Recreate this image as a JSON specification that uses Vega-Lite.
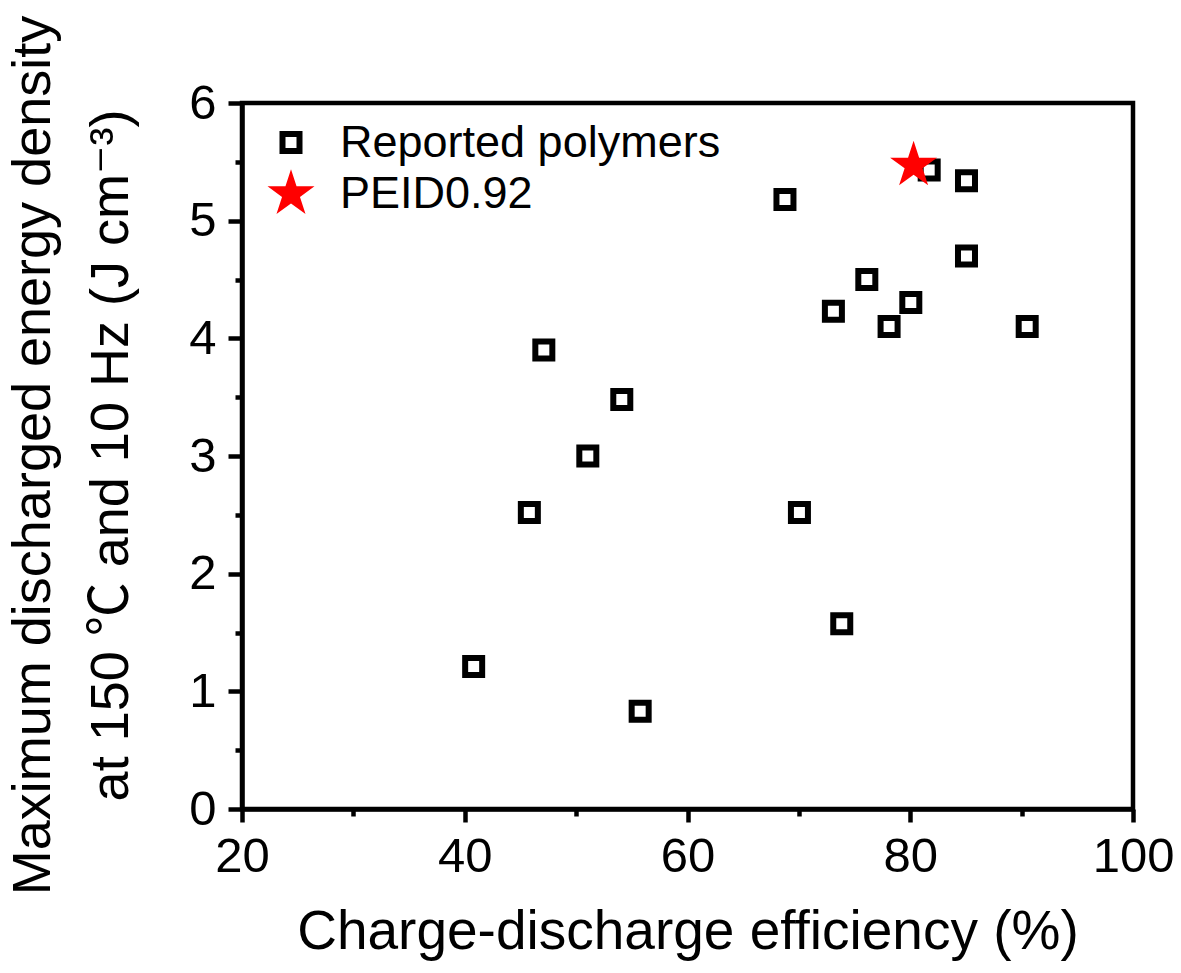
{
  "$schema": "https://vega.github.io/schema/vega-lite/v6.json",
  "width": 891,
  "height": 706,
  "autosize": {"type": "none"},
  "padding": {"left": 242, "top": 103, "right": 48, "bottom": 164},
  "background": "white",
  "config": {
    "view": {"stroke": "black", "strokeWidth": 4.5},
    "font": "Liberation Sans",
    "axis": {
      "domainColor": "black",
      "domainWidth": 4.5,
      "tickColor": "black",
      "tickWidth": 4.5,
      "labelColor": "black",
      "labelFont": "Liberation Sans",
      "labelFontSize": 49,
      "grid": false,
      "titleColor": "black",
      "titleFont": "Liberation Sans, Noto Sans CJK SC, DejaVu Sans",
      "titleFontSize": 55,
      "titleFontWeight": "normal",
      "labelOverlap": false,
      "labelBound": false,
      "labelFlush": false
    }
  },
  "data": {
    "values": [
      {"eff": 40.8, "wd": 1.21, "series": "Reported polymers"},
      {"eff": 45.8, "wd": 2.52, "series": "Reported polymers"},
      {"eff": 47.1, "wd": 3.9, "series": "Reported polymers"},
      {"eff": 51.05, "wd": 3.0, "series": "Reported polymers"},
      {"eff": 54.1, "wd": 3.48, "series": "Reported polymers"},
      {"eff": 55.75, "wd": 0.83, "series": "Reported polymers"},
      {"eff": 68.75, "wd": 5.18, "series": "Reported polymers"},
      {"eff": 70.05, "wd": 2.52, "series": "Reported polymers"},
      {"eff": 73.1, "wd": 4.23, "series": "Reported polymers"},
      {"eff": 73.85, "wd": 1.575, "series": "Reported polymers"},
      {"eff": 76.1, "wd": 4.5, "series": "Reported polymers"},
      {"eff": 78.1, "wd": 4.1, "series": "Reported polymers"},
      {"eff": 80.05, "wd": 4.305, "series": "Reported polymers"},
      {"eff": 81.7, "wd": 5.43, "series": "Reported polymers"},
      {"eff": 85.05, "wd": 5.34, "series": "Reported polymers"},
      {"eff": 85.05, "wd": 4.7, "series": "Reported polymers"},
      {"eff": 90.5, "wd": 4.1, "series": "Reported polymers"},
      {"eff": 80.3, "wd": 5.47, "series": "PEID0.92"}
    ]
  },
  "layer": [
    {
      "mark": {"type": "point", "opacity": 0},
      "encoding": {
        "x": {
          "field": "eff", "type": "quantitative",
          "scale": {"domain": [20, 100], "nice": false, "zero": false},
          "axis": {"orient": "bottom", "values": [30, 50, 70, 90], "labels": false, "domain": false, "tickSize": 7, "tickWidth": 4.5, "title": null}
        },
        "y": {
          "field": "wd", "type": "quantitative",
          "scale": {"domain": [0, 6], "nice": false, "zero": false},
          "axis": {"orient": "left", "values": [0.5, 1.5, 2.5, 3.5, 4.5, 5.5], "labels": false, "domain": false, "tickSize": 7, "tickWidth": 4.5, "title": null}
        }
      }
    },
    {
      "mark": {"type": "point", "opacity": 1, "strokeWidth": 6},
      "encoding": {
        "x": {
          "field": "eff", "type": "quantitative",
          "scale": {"domain": [20, 100], "nice": false, "zero": false},
          "axis": {
            "orient": "bottom", "values": [20, 40, 60, 80, 100], "tickSize": 13, "tickWidth": 4.5, "labelPadding": 10,
            "title": "Charge-discharge efficiency (%)", "titleY": 139, "titleBaseline": "alphabetic"
          }
        },
        "y": {
          "field": "wd", "type": "quantitative",
          "scale": {"domain": [0, 6], "nice": false, "zero": false},
          "axis": {
            "orient": "left", "values": [0, 1, 2, 3, 4, 5, 6], "tickSize": 14, "tickWidth": 4.5, "labelPadding": 12,
            "title": ["Maximum discharged energy density", "at 150 ℃ and 10 Hz (J cm⁻³)"],
            "titleAngle": -90, "titleX": -193, "titleY": 352, "titleAlign": "center",
            "titleBaseline": "alphabetic", "titleLineHeight": 78, "titleFontSize": 54
          }
        },
        "shape": {
          "field": "series", "type": "nominal",
          "scale": {
            "domain": ["Reported polymers", "PEID0.92"],
            "range": ["square", "M0,-1L0.2245,-0.309L0.9511,-0.309L0.3633,0.118L0.5878,0.809L0,0.382L-0.5878,0.809L-0.3633,0.118L-0.9511,-0.309L-0.2245,-0.309Z"]
          },
          "legend": {
            "orient": "none", "legendX": 21, "legendY": 17, "title": null,
            "labelFontSize": 45, "labelFont": "Liberation Sans", "labelColor": "black",
            "symbolStrokeWidth": 6, "labelOffset": 21, "rowPadding": -10, "padding": 0, "labelLimit": 0
          }
        },
        "fill": {
          "field": "series", "type": "nominal",
          "scale": {"domain": ["Reported polymers", "PEID0.92"], "range": ["white", "#ff0000"]}
        },
        "stroke": {
          "field": "series", "type": "nominal",
          "scale": {"domain": ["Reported polymers", "PEID0.92"], "range": ["black", "transparent"]}
        },
        "size": {
          "field": "series", "type": "nominal",
          "scale": {"domain": ["Reported polymers", "PEID0.92"], "range": [289, 2440]}
        }
      }
    }
  ],
  "resolve": {"axis": {"x": "independent", "y": "independent"}}
}
